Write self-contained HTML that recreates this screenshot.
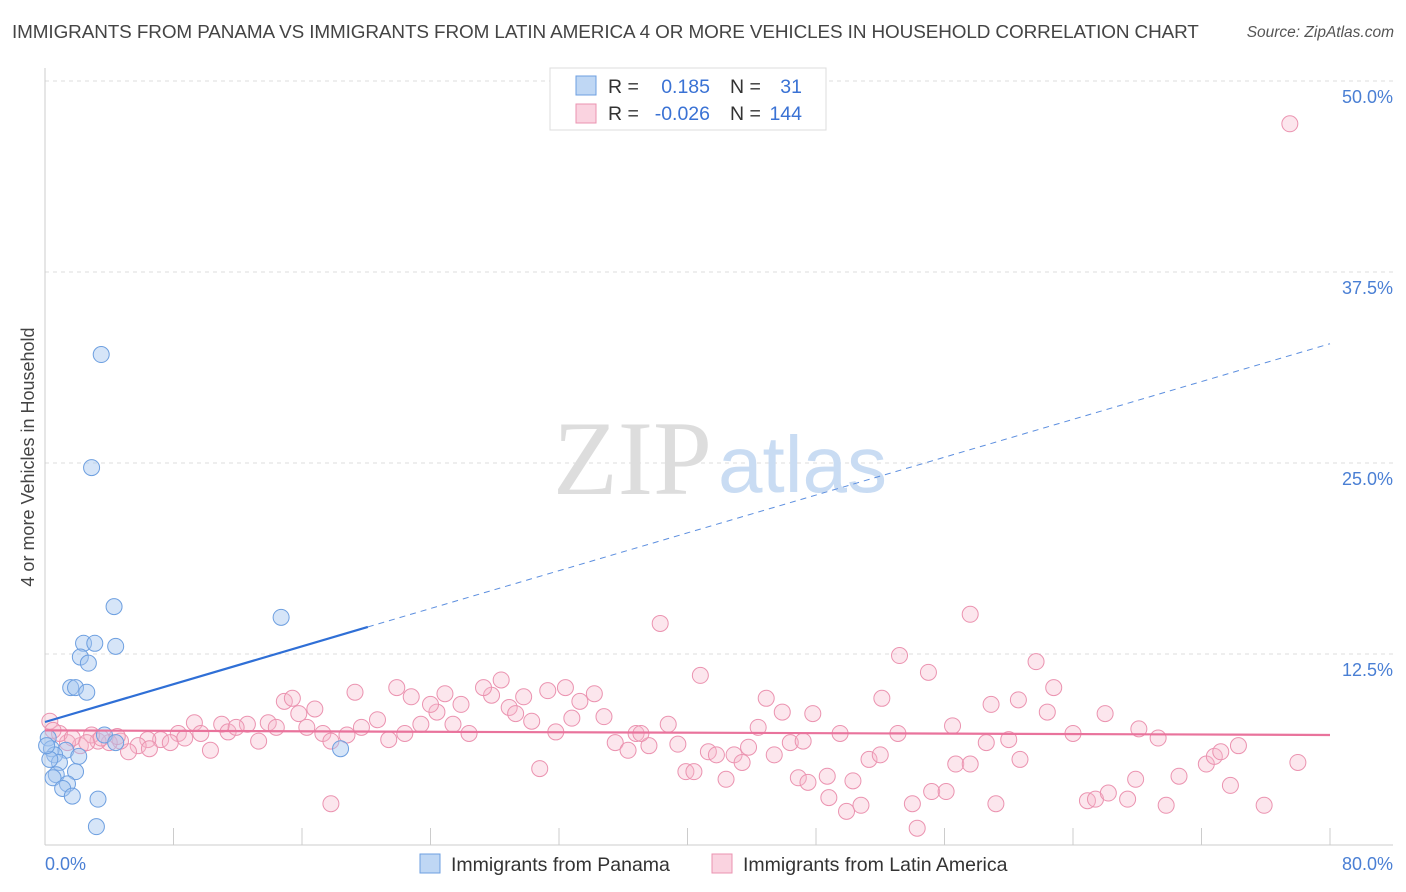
<!DOCTYPE html>
<html><head><meta charset="utf-8">
<style>
body{margin:0;background:#fff;font-family:"Liberation Sans",sans-serif;}
#wrap{position:relative;width:1406px;height:892px;overflow:hidden;}
.title{position:absolute;left:12px;top:22px;font-size:18.9px;color:#444;letter-spacing:-0.1px;white-space:nowrap}
.src{position:absolute;right:12px;top:24px;font-size:15.5px;color:#555;font-style:italic}
</style></head>
<body>
<div id="wrap">
<div class="title">IMMIGRANTS FROM PANAMA VS IMMIGRANTS FROM LATIN AMERICA 4 OR MORE VEHICLES IN HOUSEHOLD CORRELATION CHART</div>
<div class="src">Source: ZipAtlas.com</div>
<svg id="chart" width="1406" height="892" style="position:absolute;left:0;top:0"></svg>
</div>
<script>
const yTicks=[12.5,25,37.5,50];
const yTickLabels=["12.5%","25.0%","37.5%","50.0%"];
const xTickVals=[0,8,16,24,32,40,48,56,64,72,80];
const panamaX=[3.5,2.9,4.3,14.7,2.4,3.1,4.4,2.2,2.7,1.6,1.9,2.6,3.7,4.4,0.2,0.4,1.3,0.6,2.1,0.9,1.9,0.7,0.5,1.4,1.1,1.7,3.3,3.2,18.4,0.3,0.1];
const panamaY=[32.1,24.7,15.6,14.9,13.2,13.2,13.0,12.3,11.9,10.3,10.3,10.0,7.2,6.7,7.0,6.3,6.2,5.9,5.8,5.4,4.8,4.6,4.4,4.0,3.7,3.2,3.0,1.2,6.3,5.6,6.5];
const latamX=[77.5,38.3,57.6,53.2,61.7,40.8,55.0,62.8,19.3,21.9,22.8,24.9,27.8,28.4,27.3,29.8,31.3,32.4,34.2,33.3,14.9,15.4,15.8,16.8,13.9,12.6,11.0,9.3,8.3,7.2,6.4,5.8,5.2,4.7,4.0,3.3,2.9,2.2,1.4,0.9,0.3,0.5,1.7,2.6,3.5,4.5,6.5,7.8,8.7,9.7,10.3,11.4,11.9,13.3,14.4,16.3,17.3,17.8,18.8,19.7,20.7,21.4,22.4,23.4,24.4,25.4,26.4,25.9,24.0,28.9,29.3,30.3,31.8,32.8,34.8,35.5,36.3,36.8,37.6,37.1,38.8,39.4,39.9,40.4,41.3,41.8,42.4,42.9,43.4,43.8,44.4,44.9,45.4,45.9,46.4,46.9,47.2,47.8,48.7,48.8,49.5,49.9,50.3,50.8,51.3,52.0,52.1,53.1,54.0,54.3,55.2,56.1,56.5,56.7,57.6,58.6,58.9,59.2,60.0,60.6,60.7,62.4,64.0,64.9,65.4,66.2,66.0,67.4,67.9,68.1,69.3,69.8,70.6,72.3,72.8,73.2,73.8,74.3,75.9,78.0,30.8,17.8,47.5];
const latamY=[47.2,14.5,15.1,12.4,12.0,11.1,11.3,10.3,10.0,10.3,9.7,9.9,9.8,10.8,10.3,9.7,10.1,10.3,9.9,9.4,9.4,9.6,8.6,8.9,8.0,7.9,7.9,8.0,7.3,6.9,6.9,6.5,6.1,6.8,6.7,6.8,7.2,6.5,6.7,7.3,8.1,7.5,7.0,6.7,7.0,7.1,6.3,6.7,7.0,7.3,6.2,7.4,7.7,6.8,7.7,7.7,7.3,6.8,7.2,7.7,8.2,6.9,7.3,7.9,8.7,7.9,7.3,9.2,9.2,9.0,8.6,8.1,7.4,8.3,8.4,6.7,6.2,7.3,6.5,7.3,7.9,6.6,4.8,4.8,6.1,5.9,4.3,5.9,5.4,6.4,7.7,9.6,5.9,8.7,6.7,4.4,6.8,8.6,4.5,3.1,7.3,2.2,4.2,2.6,5.6,5.9,9.6,7.3,2.7,1.1,3.5,3.5,7.8,5.3,5.3,6.7,9.2,2.7,6.9,9.5,5.6,8.7,7.3,2.9,3.0,3.4,8.6,3.0,4.3,7.6,7.0,2.6,4.5,5.3,5.8,6.1,3.9,6.5,2.6,5.4,5.0,2.7,4.1];
const panamaTrend=[8.05,14.27]; const panamaTrendX=[0,20.1,80];
const latamTrend=[7.5,7.2];

const NS="http://www.w3.org/2000/svg";
const svg=document.getElementById('chart');
const X0=45,X1=1330,Y0=845,PXPER=15.28;
const sx=v=>X0+(v/80)*(X1-X0);
const sy=v=>Y0-v*PXPER;
function mk(tag,attrs,parent){const e=document.createElementNS(NS,tag);for(const k in attrs)e.setAttribute(k,attrs[k]);(parent||svg).appendChild(e);return e;}

yTicks.forEach((t,i)=>{
  const g=mk('line',{x1:X0,x2:1393,y1:sy(t),y2:sy(t),stroke:'#ddd','stroke-dasharray':'4,4'});
  
  
  const tx=mk('text',{x:1393,y:sy(t)+22,'text-anchor':'end','font-size':'18',fill:'#4a7fd4','font-family':'Liberation Sans, sans-serif'});
  tx.textContent=yTickLabels[i];
  
  
});
const ya=mk('line',{x1:X0,x2:X0,y1:68,y2:Y0,stroke:'#ccc'});


const xa=mk('line',{x1:X0,x2:1393,y1:Y0,y2:Y0,stroke:'#ccc'});


xTickVals.forEach(v=>{
  const t=mk('line',{x1:sx(v),x2:sx(v),y1:828,y2:Y0,stroke:'#ccc'});
  
  
});
const wm=mk('text',{x:553,y:494,'font-size':'106','font-family':'Liberation Serif, serif',fill:'#ddd'});
wm.textContent='ZIP';


const wm2=mk('text',{x:718,y:492,'font-size':'80','font-family':'Liberation Sans, sans-serif',fill:'#c9dcf3'});
wm2.textContent='atlas';



latamX.forEach((x,i)=>{
  const c=mk('circle',{cx:sx(x),cy:sy(latamY[i]),r:8,fill:'rgba(246,182,203,0.35)',stroke:'#eb93b0','stroke-width':1});
  
  
});
panamaX.forEach((x,i)=>{
  const c=mk('circle',{cx:sx(x),cy:sy(panamaY[i]),r:8,fill:'rgba(164,198,240,0.45)',stroke:'#6d9fe0','stroke-width':1});
  
  
});
const slope=(panamaTrend[1]-panamaTrend[0])/panamaTrendX[1];
const t1=mk('line',{x1:sx(0),y1:sy(panamaTrend[0]),x2:sx(panamaTrendX[1]),y2:sy(panamaTrend[1]),stroke:'#2f6fd6','stroke-width':2.2});


const t2=mk('line',{x1:sx(panamaTrendX[1]),y1:sy(panamaTrend[1]),x2:sx(panamaTrendX[2]),y2:sy(panamaTrend[0]+slope*panamaTrendX[2]),stroke:'#5d8fdf','stroke-width':1,'stroke-dasharray':'6,5'});


const t3=mk('line',{x1:sx(0),y1:sy(latamTrend[0]),x2:sx(80),y2:sy(latamTrend[1]),stroke:'#e9739c','stroke-width':2.2});



const xl=mk('text',{x:45,y:870,'font-size':'18','fill':'#4a7fd4','font-family':'Liberation Sans, sans-serif'});
xl.textContent='0.0%';


const xr=mk('text',{x:1393,y:870,'text-anchor':'end','font-size':'18',fill:'#4a7fd4','font-family':'Liberation Sans, sans-serif'});
xr.textContent='80.0%';


const yt=mk('text',{x:0,y:0,transform:'translate(34,457) rotate(-90)','text-anchor':'middle','font-size':'18',fill:'#444','font-family':'Liberation Sans, sans-serif'});
yt.textContent='4 or more Vehicles in Household';



const lg=mk('g',{});


mk('rect',{x:550,y:68,width:276,height:62,fill:'#fff',stroke:'#ddd'},lg);
mk('rect',{x:576,y:76,width:20,height:19,fill:'rgba(164,198,240,0.7)',stroke:'#6d9fe0'},lg);
mk('rect',{x:576,y:104,width:20,height:19,fill:'rgba(246,182,203,0.6)',stroke:'#eb93b0'},lg);
function lt(x,y,s,col,anchor){const t=mk('text',{x:x,y:y,'font-size':'19.5','font-family':'Liberation Sans, sans-serif',fill:col,'text-anchor':anchor||'start'},lg);t.textContent=s;return t;}
lt(608,93,'R =','#333');lt(710,93,'0.185','#3a72d4','end');lt(730,93,'N =','#333');lt(802,93,'31','#3a72d4','end');
lt(608,120,'R =','#333');lt(710,120,'-0.026','#3a72d4','end');lt(730,120,'N =','#333');lt(802,120,'144','#3a72d4','end');

const bl=mk('g',{});


mk('rect',{x:420,y:854,width:20,height:19,fill:'rgba(164,198,240,0.7)',stroke:'#6d9fe0'},bl);
mk('rect',{x:712,y:854,width:20,height:19,fill:'rgba(246,182,203,0.6)',stroke:'#eb93b0'},bl);
const b1=mk('text',{x:451,y:871,'font-size':'19.5',fill:'#333','font-family':'Liberation Sans, sans-serif'},bl);b1.textContent='Immigrants from Panama';
const b2=mk('text',{x:743,y:871,'font-size':'19.5',fill:'#333','font-family':'Liberation Sans, sans-serif'},bl);b2.textContent='Immigrants from Latin America';
</script>
</body></html>
